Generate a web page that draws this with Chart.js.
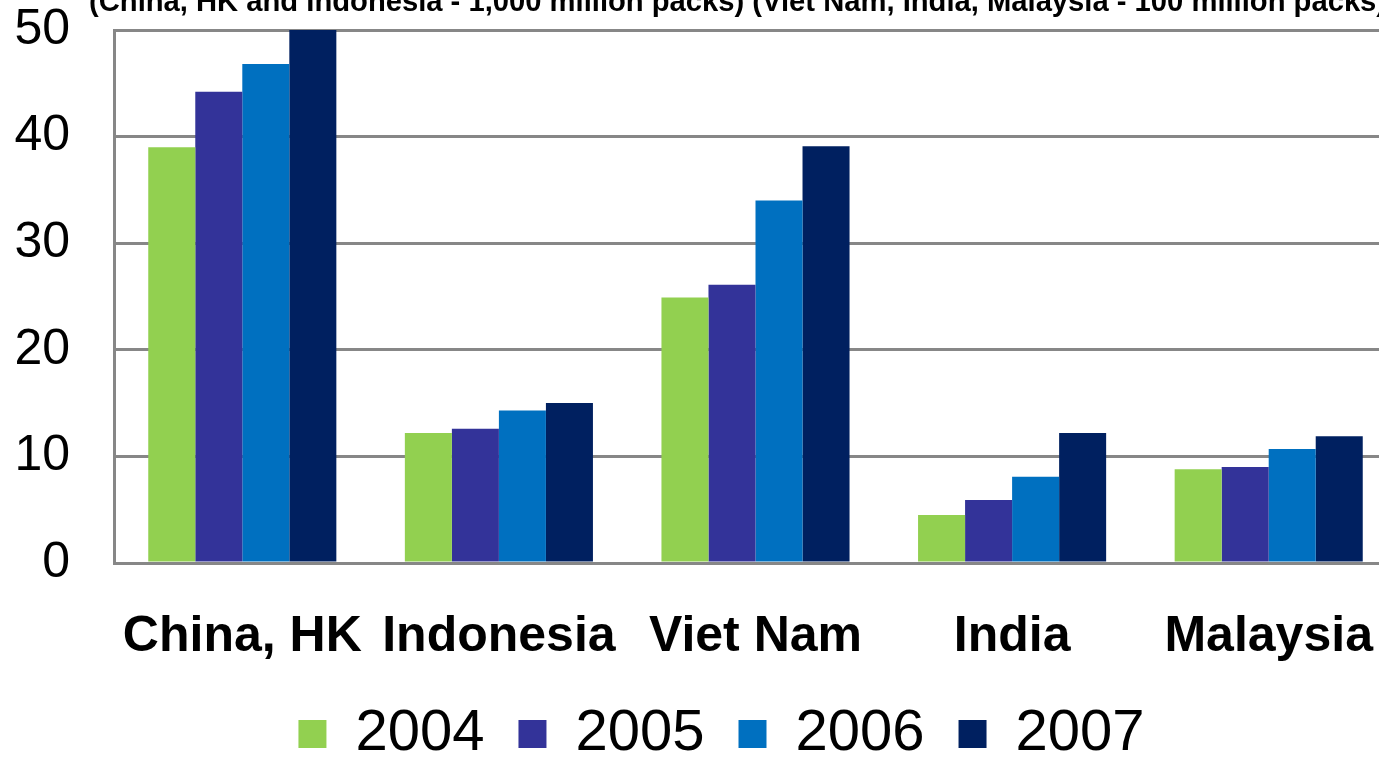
<!DOCTYPE html>
<html>
<head>
<meta charset="utf-8">
<script src="https://cdn.jsdelivr.net/npm/chart.js@4.4.1/dist/chart.umd.min.js"></script>
<style>
  html, body { margin: 0; padding: 0; background: #fff; overflow: hidden; }
  #wrap { position: absolute; left: 0; top: 0; width: 1379px; height: 757px; overflow: hidden; }
  canvas { position: absolute; left: 0; top: 0; }
</style>
</head>
<body>
<div id="wrap"><canvas id="c" width="1397" height="757"></canvas></div>
<script>
// Данные
const titleText = "(China, HK and Indonesia - 1,000 million packs) (Viet Nam, India, Malaysia - 100 million packs)";
const categories = ["China, HK", "Indonesia", "Viet Nam", "India", "Malaysia"];
const years = ["2004", "2005", "2006", "2007"];
const v2004 = [39.0, 12.2, 24.9, 4.5, 8.8];
const v2005 = [44.2, 12.6, 26.1, 5.9, 9.0];
const v2006 = [46.8, 14.3, 34.0, 8.1, 10.7];
const v2007 = [50.0, 15.0, 39.1, 12.2, 11.9];
const yTicks = [0, 10, 20, 30, 40, 50];

const COLORS = ["#92D050", "#333399", "#0070C0", "#002060"];
const GRID = "#878787";
const FONT = "'Liberation Sans', Arial, sans-serif";

// заголовок обрезан сверху — рисуем его сами
const topTitle = {
  id: "topTitle",
  afterDraw(chart) {
    const ctx = chart.ctx;
    ctx.save();
    ctx.font = "bold 29.2px " + FONT;
    ctx.fillStyle = "#000";
    ctx.textBaseline = "alphabetic";
    ctx.textAlign = "left";
    ctx.fillText(titleText, 89, 11);
    ctx.restore();
  },
};

// легенду в оригинале чуть правее и ниже, чем ставит Chart.js
const nudgeLegend = {
  id: "nudgeLegend",
  afterLayout(chart) {
    const lg = chart.legend;
    if (!lg) return;
    lg.left += 23; lg.right += 23;
    lg.top += 8; lg.bottom += 8;
  },
};

const series = [v2004, v2005, v2006, v2007];
new Chart(document.getElementById("c"), {
  type: "bar",
  data: {
    labels: categories,
    datasets: series.map((d, i) => ({
      label: years[i],
      data: d,
      backgroundColor: COLORS[i],
      borderWidth: 0,
      categoryPercentage: 0.733,
      barPercentage: 1.0,
    })),
  },
  options: {
    responsive: false,
    animation: false,
    layout: { padding: { top: 30, left: 0, right: 0, bottom: -8 } },
    plugins: {
      title: { display: false },
      tooltip: { enabled: false },
      legend: {
        position: "bottom",
        labels: {
          font: { family: FONT, size: 58, lineHeight: 1 },
          color: "#000",
          boxWidth: 28,
          boxHeight: 28,
          padding: 34,
        },
      },
    },
    scales: {
      x: {
        afterFit: (s) => { s.paddingLeft = 0; s.paddingRight = 0; s.height = 100; },
        grid: { display: false, drawTicks: false },
        border: { color: GRID, width: 3 },
        ticks: { font: { family: FONT, size: 50, weight: "bold" }, color: "#000", padding: 44, maxRotation: 0 },
      },
      y: {
        min: 0,
        max: 50,
        afterBuildTicks: (s) => { s.ticks = yTicks.map((v) => ({ value: v })); },
        afterFit: (s) => { s.width = 114; s.paddingTop = 0; s.paddingBottom = 0; },
        grid: { color: GRID, lineWidth: 3, drawTicks: false },
        border: { color: GRID, width: 3 },
        ticks: { font: { family: FONT, size: 50 }, color: "#000", padding: 44 },
      },
    },
  },
  plugins: [topTitle, nudgeLegend],
});
</script>
</body>
</html>
